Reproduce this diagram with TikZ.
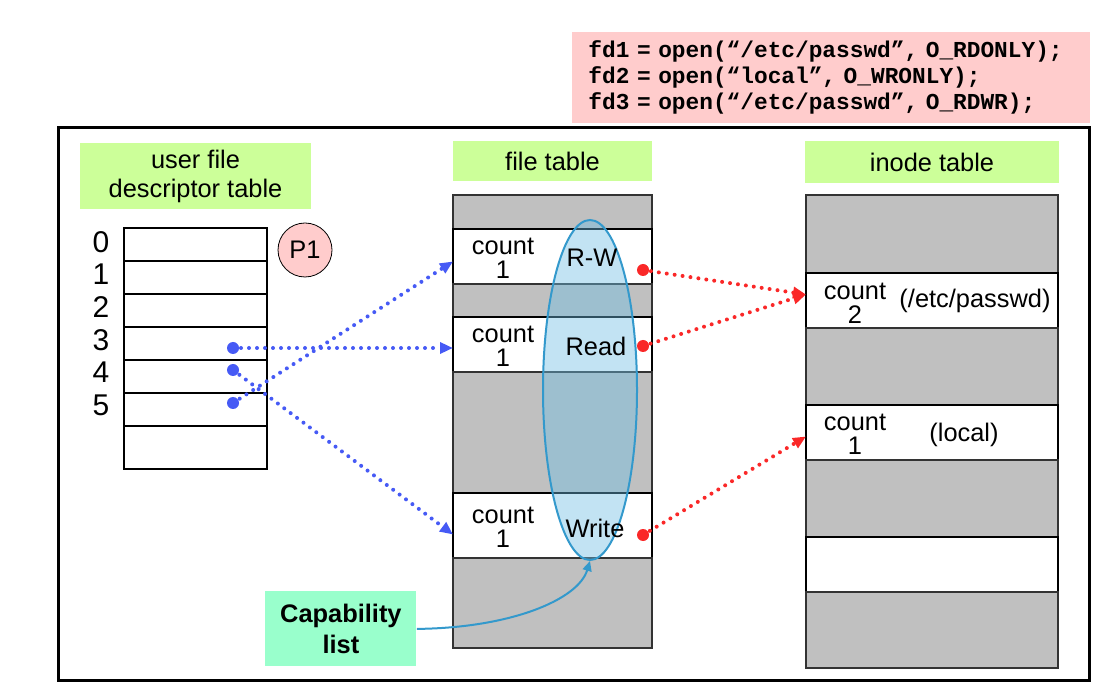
\documentclass[tikz,border=0pt]{standalone}
\usepackage{fontspec}
\setmainfont{Liberation Sans}
\setmonofont{Liberation Mono}
\usetikzlibrary{positioning, shapes.geometric, arrows.meta}

\definecolor{labelgreen}{RGB}{204,255,153}
\definecolor{codepink}{RGB}{255,204,204}
\definecolor{capgreen}{RGB}{153,255,204}
\definecolor{rowgray}{RGB}{192,192,192}
\definecolor{ptrblue}{RGB}{70,90,245}
\definecolor{ptrred}{RGB}{250,40,40}
\definecolor{capblue}{RGB}{51,153,204}
\definecolor{capfill}{RGB}{110,190,228}

\begin{document}
\begin{tikzpicture}[x=0.5pt, y=-0.5pt,
        every node/.style={font=\fontsize{12.7}{14.5}\selectfont},
        title/.style={fill=labelgreen, align=center, inner sep=0pt},
        slot/.style={draw=black, line width=0.8pt, fill=white, outer sep=0pt,
            minimum width=71.5pt, minimum height=16.5pt, inner sep=0pt},
        grayrow/.style={draw=black!80, line width=0.8pt, fill=rowgray, outer sep=0pt, inner sep=0pt},
        whiterow/.style={draw=black, line width=1pt, fill=white, outer sep=0pt, inner sep=0pt},
        ftrow/.style={minimum width=99.5pt},
        itrow/.style={minimum width=126pt},
        cnt/.style={align=center, inner sep=0pt, font=\fontsize{12.7}{12}\selectfont},
        blueptr/.style={ptrblue, line width=2pt, line cap=round, dash pattern=on 0pt off 4pt,
            -{Triangle[length=6.5pt,width=5.5pt]}},
        redptr/.style={ptrred, line width=2pt, line cap=round, dash pattern=on 0pt off 4pt,
            -{Triangle[length=6.5pt,width=5.5pt]}}]
        \useasboundingbox (0,0) rectangle (1107,699);

        % open() calls
        \node[fill=codepink, anchor=north west, text width=243pt, inner xsep=8pt,
            minimum height=45.5pt, align=left,
            font={\fontsize{11.4}{13}\selectfont\ttfamily\bfseries}] (code) at (572,32)
            {fd1 = open(“/etc/passwd”, O\_RDONLY);\\
             fd2 = open(“local”, O\_WRONLY);\\
             fd3 = open(“/etc/passwd”, O\_RDWR);};

        % kernel frame
        \draw[line width=1.5pt] (58,128) rectangle (1089,680);

        % table titles
        \node[title, minimum width=115.5pt, minimum height=33pt] (ufdt) at (195.5,176) {user file\\descriptor table};
        \node[title, minimum width=99.5pt, minimum height=20pt] (ftt) at (552.5,161) {file table};
        \node[title, minimum width=127pt, minimum height=21pt] (itt) at (932,162) {inode table};

        % user file descriptor table
        \foreach \i in {0,...,5}
            \node[slot, anchor=north west] (fd\i) at (124,228+33*\i) {};
        \node[slot, minimum height=21.5pt, below=0pt of fd5] (fd6) {};
        \foreach \i in {0,...,5}
            \node[font=\fontsize{15}{17}\selectfont] (n\i) at (101,242+32.6*\i) {\i};
        \node[circle, draw, fill=codepink, minimum size=27pt, inner sep=0pt] (p1) at (305,250) {P1};

        % file table
        \node[grayrow, ftrow, minimum height=17pt, anchor=north west] (ft0) at (453,195) {};
        \node[whiterow, ftrow, minimum height=27.5pt, below=0pt of ft0] (ftrw) {};
        \node[grayrow, ftrow, minimum height=16.5pt, below=0pt of ftrw] (ft2) {};
        \node[whiterow, ftrow, minimum height=27.5pt, below=0pt of ft2] (ftrd) {};
        \node[grayrow, ftrow, minimum height=60.5pt, below=0pt of ftrd] (ft4) {};
        \node[whiterow, ftrow, minimum height=32.5pt, below=0pt of ft4] (ftwr) {};
        \node[grayrow, ftrow, minimum height=45pt, below=0pt of ftwr] (ft6) {};

        % inode table
        \node[grayrow, itrow, minimum height=39pt, anchor=north west] (it0) at (806,195) {};
        \node[whiterow, itrow, minimum height=27.5pt, below=0pt of it0] (itpw) {};
        \node[grayrow, itrow, minimum height=38.5pt, below=0pt of itpw] (it2) {};
        \node[whiterow, itrow, minimum height=27.5pt, below=0pt of it2] (itlo) {};
        \node[grayrow, itrow, minimum height=38.5pt, below=0pt of itlo] (it4) {};
        \node[whiterow, itrow, minimum height=27.5pt, below=0pt of it4] (it5) {};
        \node[grayrow, itrow, minimum height=38pt, below=0pt of it5] (it6) {};

        % capability list over the file table
        \node[ellipse, draw=capblue, line width=1pt, fill=capfill, fill opacity=0.42,
            minimum width=47pt, minimum height=170pt, inner sep=0pt] (caps) at (590,390) {};

        % entries of the file table
        \node[cnt] at ([xshift=25pt,yshift=-1pt]ftrw.west) {count\\1};
        \node[cnt] at ([xshift=25pt,yshift=-1pt]ftrd.west) {count\\1};
        \node[cnt] at ([xshift=25pt,yshift=-1pt]ftwr.west) {count\\1};
        \node at ([xshift=69.5pt,yshift=-0.75pt]ftrw.west) {R-W};
        \node at ([xshift=71.5pt,yshift=-0.75pt]ftrd.west) {Read};
        \node at ([xshift=71pt,yshift=-1.25pt]ftwr.west) {Write};

        % entries of the inode table
        \node[cnt] at ([xshift=24.5pt,yshift=-1.5pt]itpw.west) {count\\2};
        \node at ([xshift=84.5pt]itpw.west) {(/etc/passwd)};
        \node[cnt] at ([xshift=24.5pt,yshift=-1pt]itlo.west) {count\\1};
        \node at ([xshift=79pt,yshift=-1pt]itlo.west) {(local)};

        % descriptors to file table
        \coordinate (d3) at (233,348);
        \coordinate (d4) at (233,370);
        \coordinate (d5) at (233,403);
        \draw[blueptr] (d3) -- (d3 -| ftrd.west);
        \draw[blueptr] (d4) -- ([yshift=-4.5pt]ftwr.west);
        \draw[blueptr] (d5) -- ([yshift=-2.5pt]ftrw.west);
        \foreach \d in {d3,d4,d5}
            \fill[ptrblue] (\d) circle (3pt);

        % file table to inode table
        \coordinate (rrw) at ([xshift=-4.5pt,yshift=-6.75pt]ftrw.east);
        \coordinate (rrd) at ([xshift=-4.5pt,yshift=-0.75pt]ftrd.east);
        \coordinate (rwr) at ([xshift=-4.5pt,yshift=-4.75pt]ftwr.east);
        \draw[redptr] (rrw) -- ([yshift=3pt]itpw.west);
        \draw[redptr] (rrd) -- ([yshift=3pt]itpw.west);
        \draw[redptr] (rwr) -- ([yshift=-2pt]itlo.west);
        \foreach \d in {rrw,rrd,rwr}
            \fill[ptrred] (\d) circle (3pt);

        % capability list label
        \node[fill=capgreen, minimum width=75.5pt, minimum height=37.5pt, align=center, anchor=north west,
            font={\fontsize{12.7}{15.5}\selectfont\bfseries}] (capl) at (265,591) {Capability\\list};
        \draw[capblue, line width=1pt, -{Triangle[length=5pt,width=4.5pt]}]
            (capl.east) .. controls (510,628) and (578,600) .. (caps.south);
\end{tikzpicture}
\end{document}
